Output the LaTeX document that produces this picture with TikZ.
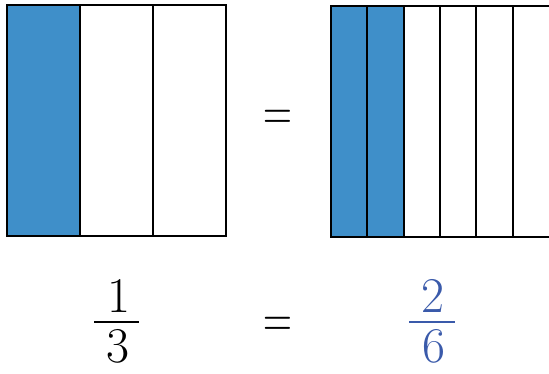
\documentclass[tikz,border=0pt]{standalone}
\usepackage{graphicx}
\definecolor{barfill}{HTML}{3F8FC9}
\definecolor{fracblue}{HTML}{3A5AAA}
\tikzset{
  cell/.style={draw=black, line width=2pt},
  digit/.style={anchor=base, inner sep=0pt, font=\fontsize{50}{60}\selectfont},
  fracbar/.style={line width=2.6pt},
  eqsign/.style={anchor=base, inner sep=0pt, font=\fontsize{40}{48}\selectfont}
}
\begin{document}
\begin{tikzpicture}[x=1pt,y=1pt]
\useasboundingbox (0,0) rectangle (549,374);
% left bar: thirds
\fill[barfill] (7,138) rectangle (80,369);
\draw[cell] (7,138) rectangle (226,369);
\draw[cell] (80,138) -- (80,369);
\draw[cell] (153,138) -- (153,369);
% right bar: sixths
\fill[barfill] (331,137) rectangle (403.7,368);
\draw[cell] (331,137) rectangle (550.5,368);
\foreach \xx in {367.3,403.7,440,476.3,512.7}{
  \draw[cell] (\xx,137) -- (\xx,368);
}
% equal signs
\node[eqsign] (eqtop) at (278,243.3) {\scalebox{1}[1.42]{=}};
\node[eqsign] (eqbot) at (278,36.3) {\scalebox{1}[1.42]{=}};
% fraction 1/3
\node[digit] (n1) at (119,61) {1};
\node[digit] (d1) at (118,11) {3};
\coordinate (b1l) at (94,52);
\coordinate (b1r) at (139,52);
\draw[fracbar] (b1l) -- (b1r);
% fraction 2/6
\node[digit, text=fracblue] (n2) at (433,61) {2};
\node[digit, text=fracblue] (d2) at (434,11) {6};
\coordinate (b2l) at (409,52);
\coordinate (b2r) at (455,52);
\draw[fracbar, fracblue] (b2l) -- (b2r);
\end{tikzpicture}
\end{document}
